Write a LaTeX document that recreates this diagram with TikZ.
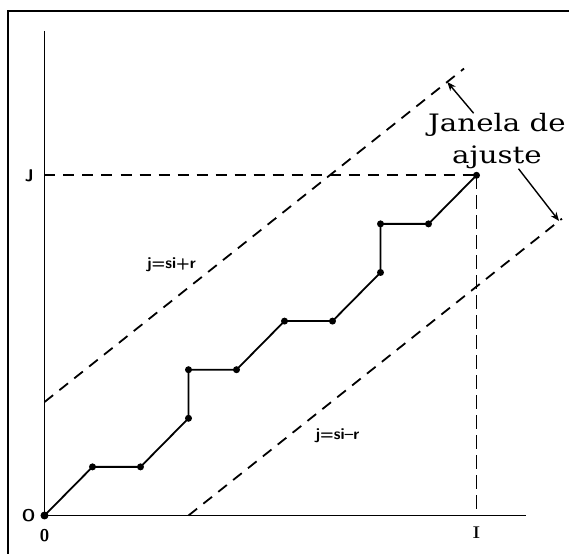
\documentclass[tikz,border=0pt]{standalone}
\usepackage{fontspec}
\usepackage{tikz}
\usetikzlibrary{positioning,arrows.meta}
\newfontfamily\winfont[FakeStretch=1.22]{DejaVu Serif}

\begin{document}
\begin{tikzpicture}[
  x=48pt, y=48.6pt,
  frame/.style={draw=black, line width=2pt},
  axis/.style={draw=black, line width=1.7pt},
  guide/.style={draw=black, line width=1.8pt, dash pattern=on 11pt off 8pt},
  warp/.style={draw=black, line width=1.8pt, line join=round},
  dot/.style={circle, fill=black, inner sep=0pt, minimum size=7pt},
  tick/.style={font=\sffamily\bfseries\fontsize{17}{17}\selectfont, inner sep=0pt},
  eq/.style={font=\sffamily\bfseries\fontsize{16}{16}\selectfont, inner sep=0pt},
  note/.style={font=\winfont\fontsize{24}{31.5}\selectfont, align=center, inner sep=0pt},
  arrow/.style={-{Stealth[length=9pt, width=7pt]}, draw=black, line width=1.4pt}
]
\useasboundingbox (-0.9271,-0.7922) rectangle (10.9271,10.607);
\draw[frame] (-0.754,-0.7922) -- (-0.754,10.381) -- (10.9271,10.381);

% grid points of the warping path
\coordinate (o) at (0,0);
\node[dot, minimum size=8pt] (p0) at (o) {};
\node[dot] (p1) at (1,1) {};
\node[dot] (p2) at (2,1) {};
\node[dot] (p3) at (3,2) {};
\node[dot] (p4) at (3,3) {};
\node[dot] (p5) at (4,3) {};
\node[dot] (p6) at (5,4) {};
\node[dot] (p7) at (6,4) {};
\node[dot] (p8) at (7,5) {};
\node[dot] (p9) at (7,6) {};
\node[dot] (p10) at (8,6) {};
\node[dot] (p11) at (9,7) {};

\coordinate (ytop) at (0,9.97);
\coordinate (xend) at (10.04,0);
\coordinate (yJ) at (0,7);
\coordinate (xI) at (9,0);
\coordinate (upA) at (0,2.335);
\coordinate (upB) at (8.74,9.196);
\coordinate (loA) at (3,0);
\coordinate (loB) at (10.78,6.107);
\coordinate (upTip) at (8.39,8.921);
\coordinate (loTip) at (10.72,6.060);

\node[tick, left=10.5pt of yJ] (labJ) {J};
\node[tick, left=9pt of o] (labO) {O};
\node[tick, below=14pt of o] (lab0) {0};
\node[tick, font=\rmfamily\bfseries\fontsize{17}{17}\selectfont, below=11pt of xI] (labI) {I};
\node[eq] (eqUp) at (2.646,5.154) {j=si+r};
\node[eq] (eqLo) at (6.104,1.650) {j=si--r};
\node[note] (win) at (9.427,7.706) {Janela de\\ajuste};

\draw[axis] (ytop) -- (o) -- (xend);
\draw[guide] (yJ) -- (p11.center);
\draw[guide, dash pattern=on 14pt off 6pt] (p11.center) -- (xI);
\draw[guide] (upA) -- (upB);
\draw[guide] (loA) -- (loB);
\draw[warp] (p0.center) -- (p1.center) -- (p2.center) -- (p3.center) -- (p4.center) -- (p5.center) -- (p6.center) -- (p7.center) -- (p8.center) -- (p9.center) -- (p10.center) -- (p11.center);
\draw[arrow] (win) -- (upTip);
\draw[arrow] (win) -- (loTip);
\end{tikzpicture}
\end{document}
